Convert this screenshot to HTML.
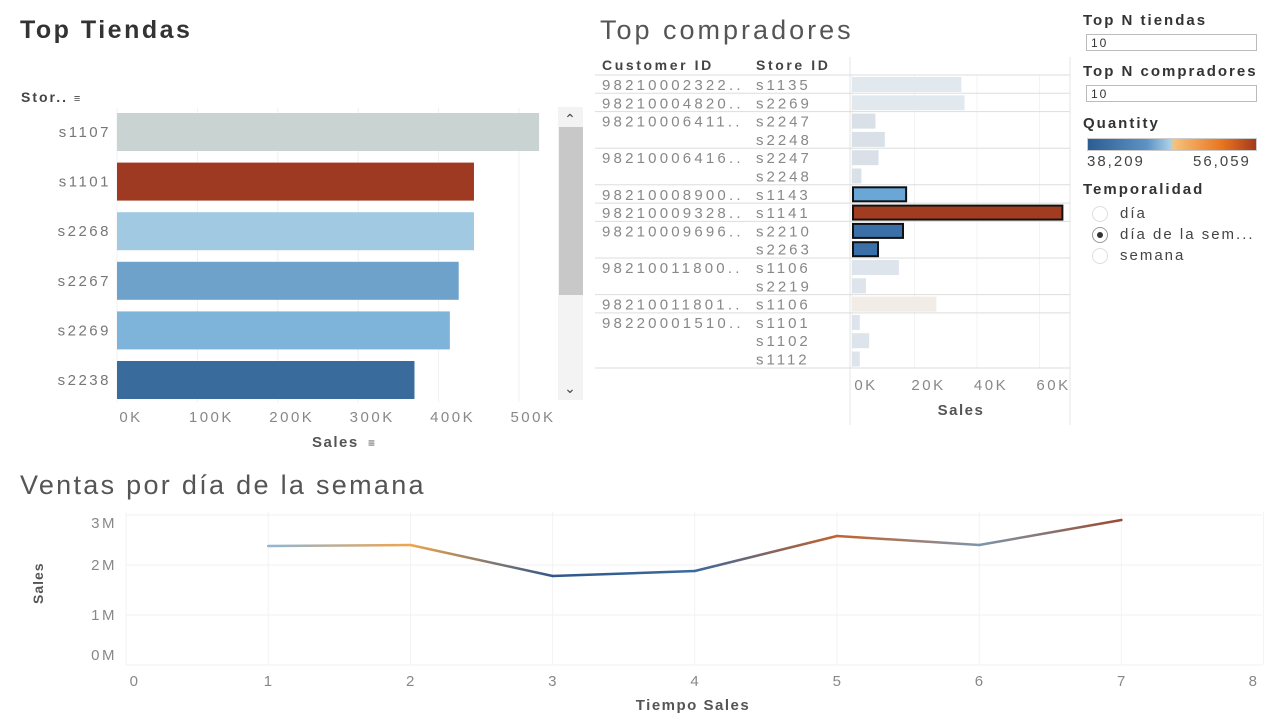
<!DOCTYPE html>
<html><head><meta charset="utf-8">
<style>
body{margin:0;width:1280px;height:720px;background:#fff;font-family:"Liberation Sans",sans-serif;overflow:hidden;position:relative;letter-spacing:2px}
.t{position:absolute;white-space:nowrap}
svg{position:absolute;left:0;top:0}
.inp{position:absolute;border:1px solid #bbb;height:17px;font-size:12px;color:#333;line-height:17px;padding-left:4px;box-sizing:border-box}
.radio{position:absolute;width:16px;height:16px;border:1px solid #ddd;border-radius:50%;box-sizing:border-box}
</style></head>
<body>
<div class="t" style="left:20px;top:16px;font-size:25px;font-weight:bold;color:#333;letter-spacing:2.5px">Top Tiendas</div>
<div class="t" style="left:600px;top:15px;font-size:27px;color:#555;letter-spacing:3px">Top compradores</div>
<div class="t" style="left:20px;top:470px;font-size:27px;color:#555;letter-spacing:2.3px">Ventas por día de la semana</div>

<div class="t" style="left:21px;top:89px;font-size:14px;font-weight:bold;color:#444">Stor.. <span style="font-size:11px">&#8801;</span></div>
<div class="t" style="left:602px;top:57px;font-size:14px;font-weight:bold;color:#444;letter-spacing:2.6px">Customer ID</div>
<div class="t" style="left:756px;top:57px;font-size:14px;font-weight:bold;color:#444;letter-spacing:2.6px">Store ID</div>

<div class="t" style="left:1083px;top:12px;font-size:15px;font-weight:bold;color:#333">Top N tiendas</div>
<div class="inp" style="left:1086px;top:34px;width:171px">10</div>
<div class="t" style="left:1083px;top:63px;font-size:15px;font-weight:bold;color:#333">Top N compradores</div>
<div class="inp" style="left:1086px;top:85px;width:171px">10</div>
<div class="t" style="left:1083px;top:115px;font-size:15px;font-weight:bold;color:#333">Quantity</div>
<div style="position:absolute;left:1087px;top:138px;width:170px;height:13px;border:1px solid #ccc;box-sizing:border-box;background:linear-gradient(to right,#2c5d92,#5e92c4 35%,#a8d0e8 49%,#f6c27a 51%,#e8741f 80%,#a43a1c)"></div>
<div class="t" style="left:1087px;top:153px;font-size:15px;color:#444">38,209</div>
<div class="t" style="left:1193px;top:153px;font-size:15px;color:#444">56,059</div>
<div class="t" style="left:1083px;top:181px;font-size:15px;font-weight:bold;color:#333">Temporalidad</div>
<div class="radio" style="left:1092px;top:206px"></div>
<div class="t" style="left:1120px;top:205px;font-size:15px;color:#444">día</div>
<div class="radio" style="left:1092px;top:227px;border-color:#999"><div style="position:absolute;left:4px;top:4px;width:6px;height:6px;border-radius:50%;background:#333"></div></div>
<div class="t" style="left:1120px;top:226px;font-size:15px;color:#444">día de la sem...</div>
<div class="radio" style="left:1092px;top:248px"></div>
<div class="t" style="left:1120px;top:247px;font-size:15px;color:#444">semana</div>

<svg id="chart" width="1280" height="720"></svg>

<script>
// Top Tiendas
const storeCats = ['s1107','s1101','s2268','s2267','s2269','s2238'];
const storeSales = [525000,444000,444000,425000,414000,370000];
const storeColors = ['#c9d4d2','#9e3a21','#a1cae2','#6ea2cb','#7eb4d9','#3a6b9d'];
const storeTicks = [0,100000,200000,300000,400000,500000];
// Top compradores
const custIds = ['98210002322..','98210004820..','98210006411..','','98210006416..','','98210008900..','98210009328..','98210009696..','','98210011800..','','98210011801..','98220001510..','',''];
const custStores = ['s1135','s2269','s2247','s2248','s2247','s2248','s1143','s1141','s2210','s2263','s1106','s2219','s1106','s1101','s1102','s1112'];
const custSales = [35000,36000,7500,10500,8500,3000,17000,67000,16000,8000,15000,4500,27000,2500,5500,2500];
const custColors = ['#e2e9ee','#e2e9ee','#d9e0e7','#d9e0e7','#d9e0e7','#d9e0e7','#6aa6d6','#a23c20','#3b6fa8','#3b6fa8','#dde4eb','#dde4eb','#f1ede6','#dde4eb','#dde4eb','#dde4eb'];
const custSelected = [0,0,0,0,0,0,1,1,1,1,0,0,0,0,0,0];
const custTicks = [0,20000,40000,60000];
// Line
const dayCats = [1,2,3,4,5,6,7];
const daySales = [2380000,2400000,1780000,1880000,2580000,2400000,2900000];
const dayColors = ['#8fb6d3','#f0a44c','#31578a','#3a6a9e','#c4622a','#7d95ae','#9c4a2e'];
const xTicks = [0,1,2,3,4,5,6,7,8];
const yTicks = [0,1000000,2000000,3000000];

const svg = document.getElementById('chart');
const NS = 'http://www.w3.org/2000/svg';
function mk(tag, attrs, name, inter){
  const e = document.createElementNS(NS, tag);
  for (const k in attrs) e.setAttribute(k, attrs[k]);
  
  
  svg.appendChild(e); return e;
}
function txt(x,y,s,name,opts){
  const e = mk('text', Object.assign({x:x,y:y,'font-size':15,fill:'#666','font-family':'Liberation Sans, sans-serif','letter-spacing':'2.5px'}, opts||{}), name, false);
  e.textContent = s; return e;
}
// ---- Top tiendas
const sx = v => 117 + v/100000*80.4;
const sy = i => 112 + i*49.6;
storeTicks.forEach(t=>{
  mk('line',{x1:sx(t),x2:sx(t),y1:108,y2:402,stroke:'#f0f0f0'},'store-gridline',false);
  txt(sx(t)+14,422,(t/1000)+'K','store-x-tick',{'text-anchor':'middle',fill:'#888'});
});
storeCats.forEach((c,i)=>{
  mk('rect',{x:sx(0),y:sy(i)+1,width:sx(storeSales[i])-sx(0),height:38,fill:storeColors[i]},'store-bar-'+c,true);
  txt(111,sy(i)+25,c,'store-label',{'text-anchor':'end',fill:'#777'});
});
txt(312,447,'Sales','store-x-title',{'font-weight':'bold',fill:'#555','letter-spacing':'1.5px'});
txt(368,447,'≡','store-sort-icon',{'font-size':12,fill:'#555'});
// scrollbar
mk('rect',{x:558,y:107,width:25,height:293,fill:'#f3f3f3'},'scrollbar-track',true);
mk('rect',{x:559,y:127,width:24,height:168,fill:'#c8c8c8'},'scrollbar-thumb',true);
txt(570,124,'⌃','scroll-up',{'text-anchor':'middle',fill:'#444','font-size':14,'letter-spacing':'0'});
txt(570,393,'⌄','scroll-down',{'text-anchor':'middle',fill:'#444','font-size':14,'letter-spacing':'0'});
// ---- Top compradores
const cx = v => 852 + v/20000*62.5;
const cy = i => 75 + i*18.3;
mk('line',{x1:850,x2:850,y1:57,y2:425,stroke:'#e4e4e4'},'cust-axis-line',false);
mk('line',{x1:1070,x2:1070,y1:57,y2:425,stroke:'#e4e4e4'},'cust-right-border',false);
custTicks.forEach(t=>{
  mk('line',{x1:cx(t),x2:cx(t),y1:75,y2:368,stroke:'#f3f3f3'},'cust-gridline',false);
  txt(cx(t)+14,390,(t/1000)+'K','cust-x-tick',{'text-anchor':'middle',fill:'#888'});
});
mk('line',{x1:595,x2:1070,y1:75,y2:75,stroke:'#ddd'},'cust-row-line',false);
custStores.forEach((s,i)=>{
  if (custIds[i] !== '' && i>0) mk('line',{x1:595,x2:1070,y1:cy(i),y2:cy(i),stroke:'#ddd'},'cust-row-line',false);
  if (custIds[i] !== '') txt(602,cy(i)+15,custIds[i],'customer-id',{fill:'#888','letter-spacing':'3.2px'});
  txt(756,cy(i)+15,s,'store-id',{fill:'#888','letter-spacing':'3px'});
  const w = cx(custSales[i])-cx(0);
  if (custSelected[i]) mk('rect',{x:cx(0)+1,y:cy(i)+2.5,width:w,height:14,fill:custColors[i],stroke:'#111','stroke-width':2},'cust-bar',true);
  else mk('rect',{x:cx(0),y:cy(i)+2,width:w,height:15,fill:custColors[i]},'cust-bar',true);
});
mk('line',{x1:595,x2:1070,y1:368,y2:368,stroke:'#ddd'},'cust-row-line',false);
txt(961,415,'Sales','cust-x-title',{'text-anchor':'middle','font-weight':'bold',fill:'#555','letter-spacing':'1.5px'});
// ---- Line chart
const lx = v => 126 + v*142.2;
const ly = v => 665 - v/1000000*50;
yTicks.forEach(t=>{
  mk('line',{x1:126,x2:1262,y1:ly(t),y2:ly(t),stroke:'#f0f0f0'},'line-y-gridline',false);
  const c = Math.min(Math.max(ly(t),523),655);
  txt(117,c+5,(t/1000000)+'M','line-y-tick',{'text-anchor':'end',fill:'#888'});
});
xTicks.forEach(t=>{
  mk('line',{x1:lx(t),x2:lx(t),y1:512,y2:665,stroke:'#f3f3f3'},'line-x-gridline',false);
  txt(Math.min(Math.max(lx(t),134),1253)+1,686,String(t),'line-x-tick',{'text-anchor':'middle',fill:'#888'});
});
const defs = mk('defs',{},'gradients',false);
for (let i=0;i<dayCats.length-1;i++){
  const g = document.createElementNS(NS,'linearGradient');
  g.setAttribute('id','g'+i); g.setAttribute('gradientUnits','userSpaceOnUse');
  g.setAttribute('x1',lx(dayCats[i])); g.setAttribute('x2',lx(dayCats[i+1]));
  g.setAttribute('y1',0); g.setAttribute('y2',0);
  [[0,dayColors[i]],[1,dayColors[i+1]]].forEach(([o,c])=>{const s=document.createElementNS(NS,'stop');s.setAttribute('offset',o);s.setAttribute('stop-color',c);g.appendChild(s);});
  defs.appendChild(g);
  mk('line',{x1:lx(dayCats[i]),y1:ly(daySales[i]),x2:lx(dayCats[i+1]),y2:ly(daySales[i+1]),stroke:'url(#g'+i+')','stroke-width':2.5,'stroke-linecap':'round'},'sales-line-segment',true);
}
txt(693,710,'Tiempo Sales','line-x-title',{'text-anchor':'middle','font-weight':'bold',fill:'#555','letter-spacing':'1.5px'});
const yt = txt(0,0,'Sales','line-y-title',{'font-weight':'bold',fill:'#555','font-size':14,'letter-spacing':'1px'});
yt.setAttribute('transform','translate(43,604) rotate(-90)');
</script>
</body></html>
